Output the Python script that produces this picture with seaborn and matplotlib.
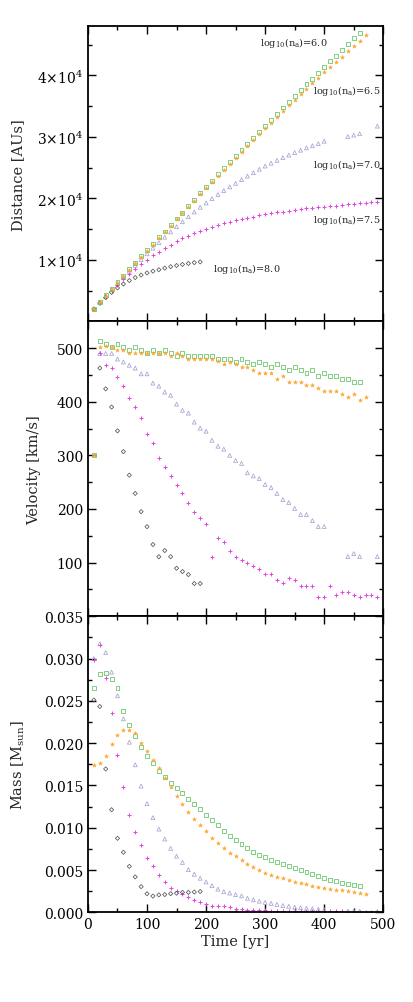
import numpy as np
import pandas as pd
import matplotlib
matplotlib.use("Agg")
import matplotlib.pyplot as plt
import seaborn as sns
from matplotlib.ticker import FixedLocator, MultipleLocator, FuncFormatter

sns.set_theme(style="ticks")
plt.rcParams["font.family"] = ["DejaVu Serif"]
plt.rcParams["mathtext.fontset"] = "dejavuserif"

# ----------------------------------------------------------
# 1.  Data (time in yr, mass in 1e-3 Msun)
# ----------------------------------------------------------
nan = np.nan

# log10(na) = 6.0  (green squares)
t_60 = np.arange(10, 461, 10)
dist_60 = [2060, 3140, 4210, 5270, 6340, 7400, 8450, 9510, 10560, 11590,
           12600, 13640, 14610, 15680, 16720, 17690, 18720, 19800, 20830, 21850,
           22880, 23910, 24880, 25850, 26830, 27850, 28820, 29860, 30830, 31810,
           32780, 33800, 34780, 35700, 36670, 37650, 38560, 39480, 40400, 41380,
           42290, 43210, 44130, 45110, 46020, 46940]
vel_60 = [300, 512.5, 508, 502, 508, 502, 496, 502, 496, 491,
          496, 491, 496, 491, 485, 491, 485, 485, 485, 485,
          485, 480, 480, 480, 474.5, 480, 474.5, 469.5, 474.5, 469.5,
          464, 469.5, 464, 458.5, 464, 458.5, 453, 458.5, 447.6, 453,
          447.6, 447.6, 442, 442, 436.7, 436.7]
mass_60 = [26.56, 28.19, 28.27, 27.63, 26.56, 23.77, 22.14, 20.79, 19.51, 18.52,
           17.64, 16.69, 16.01, 15.29, 14.69, 14.1, 13.42, 12.79, 12.23, 11.52,
           10.92, 10.3, 9.66, 9.06, 8.6, 8.03, 7.61, 7.17, 6.81, 6.5,
           6.2, 5.94, 5.7, 5.44, 5.2, 4.96, 4.72, 4.49, 4.27, 4.05,
           3.83, 3.67, 3.51, 3.37, 3.19, 3.09]

# log10(na) = 6.5  (orange stars)
t_65 = np.arange(10, 471, 10)
dist_65 = [2060, 3120, 4180, 5240, 6280, 7330, 8370, 9410, 10450, 11480,
           12480, 13520, 14480, 15540, 16580, 17540, 18560, 19630, 20650, 21660,
           22680, 23700, 24640, 25600, 26570, 27560, 28510, 29520, 30450, 31400,
           32340, 33310, 34250, 35130, 36040, 36970, 37840, 38700, 39570, 40480,
           41340, 42200, 43060, 43970, 44830, 45680, 46500]
vel_65 = [300, 502, 503, 502, 497, 497, 491, 491, 491, 491,
          491, 491, 491, 486, 491, 486, 480, 480, 480, 480,
          480, 475, 469.5, 474.5, 469.5, 464, 464, 458.5, 453, 453,
          453, 442, 447.6, 436.7, 436.7, 436.7, 431, 431, 425.7, 420,
          420, 420, 415, 409, 415, 403.7, 409]
mass_65 = [17.44, 17.6, 18.43, 19.95, 20.95, 21.5, 21.58, 21.14, 20.03, 19.07,
           18.04, 17.08, 15.89, 14.81, 13.7, 12.75, 11.87, 11.07, 10.32, 9.6,
           8.81, 8.17, 7.57, 7.05, 6.62, 6.2, 5.75, 5.35, 5.0, 4.7,
           4.45, 4.22, 4.0, 3.8, 3.62, 3.46, 3.31, 3.17, 3.04, 2.92,
           2.8, 2.69, 2.59, 2.49, 2.4, 2.31, 2.22]

# log10(na) = 7.0  (lavender triangles)
t_70 = [10, 20, 30, 40, 50, 60, 70, 80, 90, 100,
        110, 120, 130, 140, 150, 160, 170, 180, 190, 200,
        210, 220, 230, 240, 250, 260, 270, 280, 290, 300,
        310, 320, 330, 340, 350, 360, 370, 380, 390, 400,
        440, 450, 460, 490]
dist_70 = [2000, 3050, 4100, 5130, 6150, 7150, 8130, 9100, 10050, 10980,
           11900, 12800, 13680, 14540, 15380, 16200, 17000, 17780, 18550, 19250,
           19950, 20620, 21260, 21870, 22450, 23050, 23620, 24180, 24740, 25260,
           25720, 26170, 26620, 27040, 27440, 27840, 28210, 28560, 28900, 29300,
           30050, 30300, 30520, 31750]
vel_70 = [nan, 490, 490, 490, 479.5, 474, 468, 462.7, 452, 452,
          434.7, 429, 418, 412, 395.5, 384, 378.7, 362, 350.7, 345,
          328, 317, 311.5, 300, 290.4, 285, 267.5, 261.7, 256.7, 245.6,
          240, 229, 217.6, 212, 201, 189.6, 189.6, 178.4, 167.3, 167.3,
          111.2, 116.8, 111.2, 111.2]
mass_70 = [30.0, 31.75, 30.7, 28.39, 25.6, 22.88, 20.11, 17.44, 14.92, 12.85,
           11.19, 9.84, 8.67, 7.55, 6.64, 5.9, 5.05, 4.5, 4.03, 3.6,
           3.15, 2.75, 2.45, 2.28, 2.1, 1.94, 1.66, 1.48, 1.32, 1.18,
           1.06, 0.93, 0.8, 0.72, 0.6, 0.54, 0.48, 0.42, 0.36, 0.3,
           0.15, 0.14, 0.13, 0.1]

# log10(na) = 7.5  (magenta plus)
t_75 = np.arange(10, 491, 10)
dist_75 = [2000, 3035, 4025, 5000, 5945, 6850, 7710, 8530, 9310, 10030,
           10710, 11330, 11920, 12475, 12995, 13475, 13925, 14335, 14720, 15085,
           15320, 15625, 15920, 16175, 16410, 16635, 16845, 17045, 17230, 17395,
           17560, 17705, 17835, 17985, 18125, 18245, 18365, 18480, 18555, 18630,
           18745, 18830, 18925, 19025, 19105, 19180, 19265, 19350, 19425]
vel_75 = [nan, 490.7, 469, 463, 446.5, 429, 407, 390.5, 369.4, 340,
          323.3, 295, 279, 262.4, 245.6, 229, 212, 195, 184, 172.8,
          111.2, 145, 139.3, 122.5, 111, 105.5, 100, 94.6, 89, 78,
          78, 67, 62, 72, 67, 56, 56, 56, 35, 35,
          56, 40, 45.5, 45.5, 40, 35, 40, 40, 35]
mass_75 = [29.8, 31.6, 27.7, 23.6, 18.64, 14.86, 11.5, 9.48, 7.93, 6.38,
           5.46, 4.39, 3.6, 2.91, 2.5, 2.16, 1.82, 1.48, 1.24, 1.04,
           0.8, 0.72, 0.7, 0.64, 0.42, 0.35, 0.3, 0.26, 0.24, 0.22,
           0.2, 0.19, 0.18, 0.17, 0.16, 0.15, 0.14, 0.13, 0.12, 0.12,
           0.11, 0.1, 0.1, 0.09, 0.09, 0.08, 0.08, 0.07, 0.07]

# log10(na) = 8.0  (dark diamonds)
t_80 = np.arange(10, 191, 10)
dist_80 = [2000, 2975, 3870, 4695, 5425, 6070, 6625, 7110, 7520, 7870,
           8155, 8390, 8645, 8880, 9070, 9245, 9410, 9540, 9665]
vel_80 = [nan, 462.7, 424, 390, 345.7, 307, 263, 229, 195, 167,
          133.7, 111, 122.5, 111, 89.5, 83.3, 77.7, 61, 61]
mass_80 = [25.1, 24.33, 16.95, 12.13, 8.75, 7.1, 5.43, 4.19, 3.04, 2.2,
           1.92, 2.06, 2.1, 2.2, 2.26, 2.36, 2.36, 2.4, 2.46]

# ----------------------------------------------------------
# 2.  Long-form table
# ----------------------------------------------------------
series = [
    ("7.0", t_70, dist_70, vel_70, mass_70),
    ("7.5", t_75, dist_75, vel_75, mass_75),
    ("8.0", t_80, dist_80, vel_80, mass_80),
    ("6.0", t_60, dist_60, vel_60, mass_60),
    ("6.5", t_65, dist_65, vel_65, mass_65),
]
frames = []
for name, t, d, v, m in series:
    frames.append(pd.DataFrame({"model": name, "time": t, "dist": d,
                                "vel": v, "mass": np.array(m) * 1e-3}))
df = pd.concat(frames, ignore_index=True)

style = {
    "6.0": dict(marker="s", s=8, color="#6cc86c", open=True, lw=0.6),
    "6.5": dict(marker="*", s=9, color="#ffa52a", open=False, lw=0.3),
    "7.0": dict(marker="^", s=8, color="#a4a4d2", open=True, lw=0.55),
    "7.5": dict(marker="+", s=7, color="#e444e4", open=False, lw=0.7),
    "8.0": dict(marker="D", s=4.5, color="#555555", open=True, lw=0.55),
}

# ----------------------------------------------------------
# 3.  Figure
# ----------------------------------------------------------
fig = plt.figure(figsize=(4.13, 10.03), dpi=100)
left, width = 0.213, 0.715
ax1 = fig.add_axes([left, 0.6787, width, 0.2941])
ax2 = fig.add_axes([left, 0.3846, width, 0.2941])
ax3 = fig.add_axes([left, 0.0894, width, 0.2952])

for ax, col in [(ax1, "dist"), (ax2, "vel"), (ax3, "mass")]:
    for name, *_ in series:
        st = style[name]
        sub = df[df["model"] == name]
        sns.scatterplot(data=sub, x="time", y=col, ax=ax, marker=st["marker"],
                        s=st["s"], color=st["color"], linewidth=st["lw"], legend=False)
        coll = ax.collections[-1]
        coll.set_edgecolor(st["color"])
        if st["open"]:
            coll.set_facecolor("none")
    ax.set_xlim(0, 500)
    ax.xaxis.set_major_locator(MultipleLocator(100))
    ax.xaxis.set_minor_locator(MultipleLocator(50))
    ax.tick_params(which="both", direction="in", top=True, right=True,
                   labelsize=10, width=1.0, colors="black")
    ax.tick_params(which="major", length=6)
    ax.tick_params(which="minor", length=3)
    for sp in ax.spines.values():
        sp.set_linewidth(1.3)
        sp.set_color("black")
    ax.set_xlabel("")

# distance
ax1.set_ylim(0, 48000)
ax1.yaxis.set_major_locator(FixedLocator([10000, 20000, 30000, 40000]))
ax1.yaxis.set_minor_locator(FixedLocator([5000, 15000, 25000, 35000, 45000]))
ax1.yaxis.set_major_formatter(FuncFormatter(lambda v, p: f"{int(round(v / 1e4))}×10$^4$"))
ax1.set_ylabel("Distance [AUs]", fontsize=10.5)
ax1.yaxis.set_label_coords(-0.213, 0.5)
ax1.tick_params(labelbottom=False)

labels = [("6.0", 291, 45400), ("6.5", 381, 37600), ("7.0", 381, 25600),
          ("7.5", 381, 16650), ("8.0", 211, 8650)]
for val, tx, ty in labels:
    ax1.text(tx, ty, r"log$_{10}$(n$_{\rm a}$)=" + val, fontsize=7,
             ha="left", va="center")

# velocity
ax2.set_ylim(0, 550)
ax2.yaxis.set_major_locator(FixedLocator([100, 200, 300, 400, 500]))
ax2.yaxis.set_minor_locator(FixedLocator([50, 150, 250, 350, 450]))
ax2.set_ylabel("Velocity [km/s]", fontsize=10.5)
ax2.yaxis.set_label_coords(-0.157, 0.5)
ax2.tick_params(labelbottom=False)

# mass
ax3.set_ylim(0, 0.035)
ax3.yaxis.set_major_locator(MultipleLocator(0.005))
ax3.yaxis.set_minor_locator(FixedLocator(np.arange(0.0025, 0.035, 0.005)))
ax3.yaxis.set_major_formatter(FuncFormatter(lambda v, p: f"{v:.3f}"))
ax3.set_ylabel(r"Mass [M$_{\rm sun}$]", fontsize=10.5)
ax3.yaxis.set_label_coords(-0.207, 0.5)
ax3.set_xlabel("Time [yr]", fontsize=10.5, labelpad=2)

fig.savefig("out.png", dpi=100)
